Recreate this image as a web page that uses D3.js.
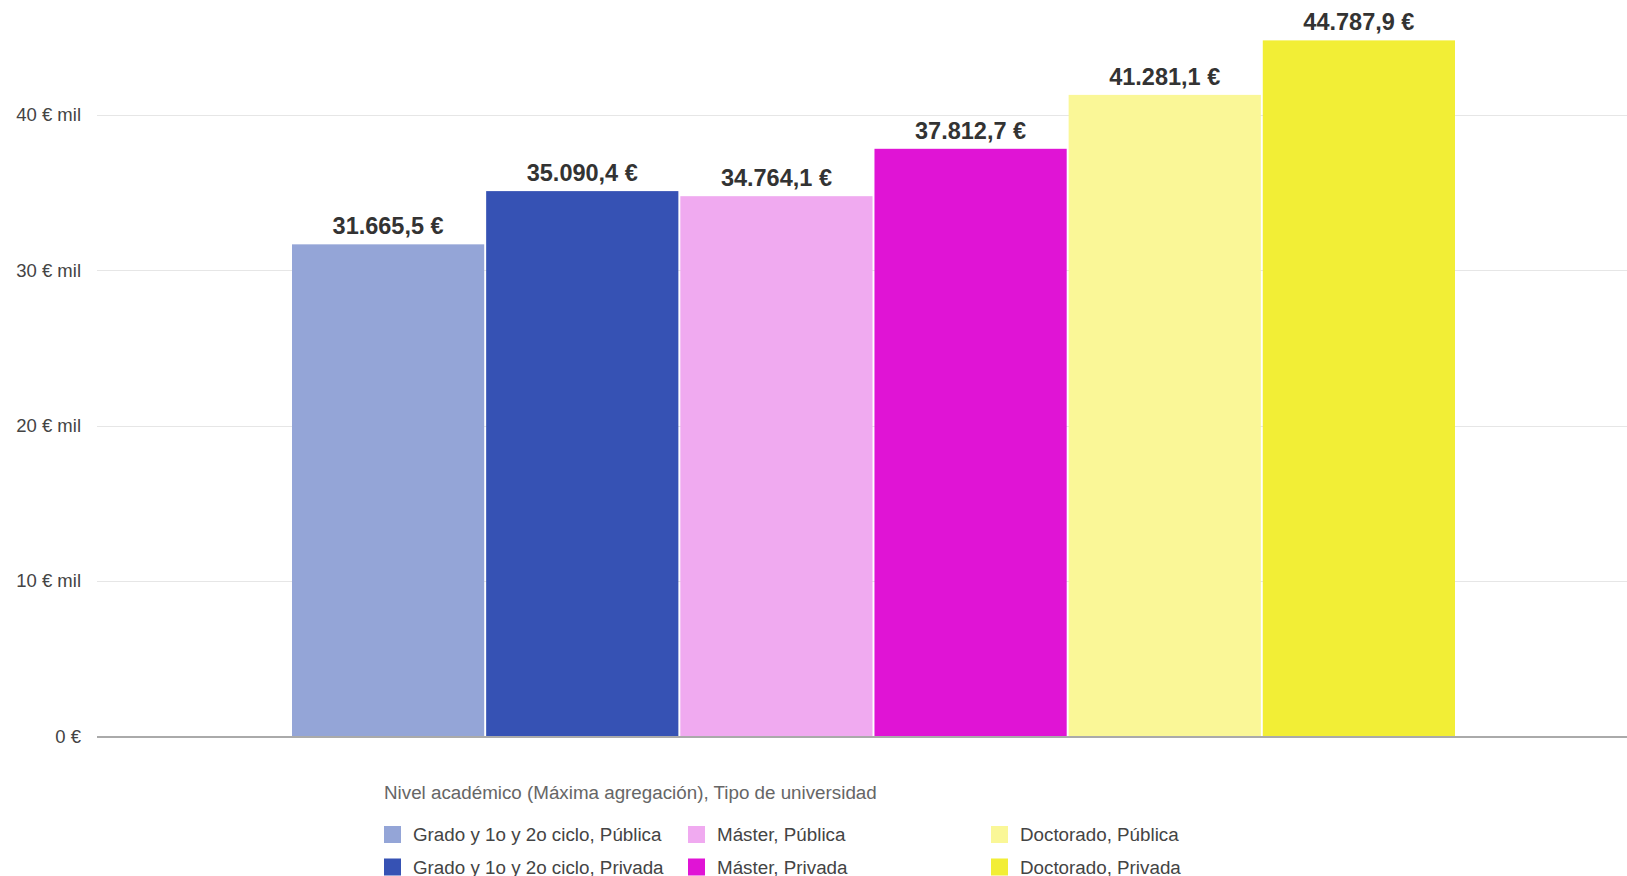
<!DOCTYPE html>
<html>
<head>
<meta charset="utf-8">
<script src="https://cdn.jsdelivr.net/npm/d3@7"></script>
<style>
  body { margin: 0; background: #fff; }
  svg { display: block; font-family: "Liberation Sans", Arial, sans-serif; }
</style>
</head>
<body>
<div id="chart"></div>
<script>
// data
var series = [
    "Grado y 1o y 2o ciclo, Pública",
    "Grado y 1o y 2o ciclo, Privada",
    "Máster, Pública",
    "Máster, Privada",
    "Doctorado, Pública",
    "Doctorado, Privada"
]
var values = [31665.5, 35090.4, 34764.1, 37812.7, 41281.1, 44787.9]
var colors = ["#94a5d7", "#3652b4", "#f0aaf0", "#e014d5", "#faf797", "#f2ee36"]
var yTicks = [0, 10000, 20000, 30000, 40000]
var yTickLabels = ["0 €", "10 € mil", "20 € mil", "30 € mil", "40 € mil"]
var legendTitle = "Nivel académico (Máxima agregación), Tipo de universidad"

var width = 1627, height = 876

var svg = d3.select("#chart")
    .append("svg")
    .attr("width", width)
    .attr("height", height)

var y_scale = d3.scaleLinear().domain([0, 40000]).range([736.5, 114.8])
var x_scale = d3.scaleBand().domain(series).range([292, 1455]).paddingInner(0.01)

// gridlines
svg.append("g").selectAll("line")
    .data(yTicks.slice(1))
    .enter().append("line")
    .attr("x1", 97).attr("x2", width)
    .attr("y1", function (d) { return Math.round(y_scale(d)) + 0.5 })
    .attr("y2", function (d) { return Math.round(y_scale(d)) + 0.5 })
    .attr("stroke", "#e6e6e6")
    .attr("stroke-width", 1)

// y axis labels
var yAxis = svg.append("g")
    .attr("transform", "translate(81,0)")
    .call(d3.axisLeft(y_scale).tickValues(yTicks).tickSize(0).tickPadding(0)
        .tickFormat(function (d, i) { return yTickLabels[i] }))
yAxis.select(".domain").remove()
yAxis.selectAll("text")
    .attr("font-size", "18.5px")
    .attr("fill", "#444")
    .attr("font-family", "Liberation Sans, Arial, sans-serif")

// bars
svg.append("g").selectAll(".bar")
    .data(values)
    .enter().append("rect")
    .attr("class", "bar")
    .attr("x", function (d, i) { return x_scale(series[i]) })
    .attr("y", function (d) { return y_scale(d) })
    .attr("width", x_scale.bandwidth())
    .attr("height", function (d) { return y_scale(0) - y_scale(d) })
    .attr("fill", function (d, i) { return colors[i] })

// value labels
var fmt = d3.formatLocale({ decimal: ",", thousands: ".", grouping: [3], currency: ["", " €"] }).format(",.1f")
svg.append("g").selectAll("text")
    .data(values)
    .enter().append("text")
    .attr("x", function (d, i) { return x_scale(series[i]) + x_scale.bandwidth() / 2 })
    .attr("y", function (d) { return y_scale(d) - 10 })
    .attr("text-anchor", "middle")
    .attr("font-size", "23.5px")
    .attr("font-weight", "bold")
    .attr("fill", "#333")
    .text(function (d) { return fmt(d) + " €" })

// zero line
svg.append("line")
    .attr("x1", 97).attr("x2", width)
    .attr("y1", y_scale(0) + 0.5).attr("y2", y_scale(0) + 0.5)
    .attr("stroke", "#aaa")
    .attr("stroke-width", 2)

// legend
svg.append("text")
    .attr("x", 384).attr("y", 799)
    .attr("font-size", "18.8px")
    .attr("fill", "#666")
    .text(legendTitle)

var colX = [384, 688, 991]
var legend = svg.append("g").selectAll("g")
    .data(series)
    .enter().append("g")
    .attr("transform", function (d, i) {
        return "translate(" + colX[Math.floor(i / 2)] + "," + (826 + (i % 2) * 32.5) + ")"
    })
legend.append("rect")
    .attr("width", 17).attr("height", 17)
    .attr("fill", function (d, i) { return colors[i] })
legend.append("text")
    .attr("x", 29).attr("y", 15)
    .attr("font-size", "18.8px")
    .attr("fill", "#444")
    .text(function (d) { return d })
</script>
</body>
</html>
